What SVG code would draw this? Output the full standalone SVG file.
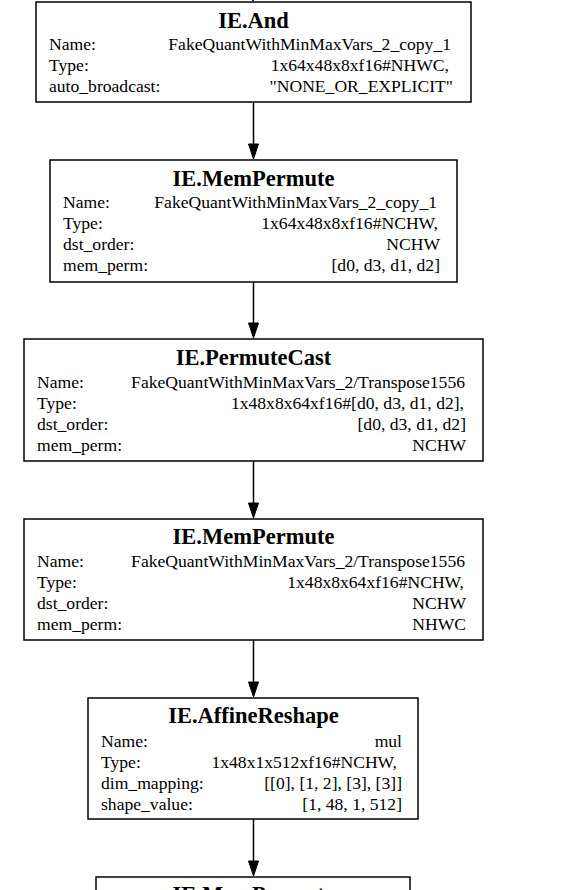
<svg xmlns="http://www.w3.org/2000/svg" width="575" height="890" viewBox="0 0 575 890">
<style>
.box{fill:#fff;stroke:#000;stroke-width:1.5}
.t{font-family:"Liberation Serif","Times New Roman",serif;font-size:22.5px;font-weight:bold;text-anchor:middle;fill:#000}
.l{font-family:"Liberation Serif","Times New Roman",serif;font-size:17.6px;fill:#000}
.r{font-family:"Liberation Serif","Times New Roman",serif;font-size:17.6px;fill:#000;text-anchor:end}
.e{stroke:#000;stroke-width:1.5;fill:none}
.h{fill:#000;stroke:#000;stroke-width:1}
</style>
<rect width="575" height="890" fill="#fff"/>
<g id="edges">
<polygon class="h" points="248,-10 258,-10 253,1"/>
<line class="e" x1="253.5" y1="102" x2="253.5" y2="144"/>
<polygon class="h" points="248.5,144 258.5,144 253.5,159"/>
<line class="e" x1="253.5" y1="282" x2="253.5" y2="323"/>
<polygon class="h" points="248.5,323 258.5,323 253.5,338"/>
<line class="e" x1="253.5" y1="461" x2="253.5" y2="503"/>
<polygon class="h" points="248.5,503 258.5,503 253.5,518"/>
<line class="e" x1="253.5" y1="640" x2="253.5" y2="682"/>
<polygon class="h" points="248.5,682 258.5,682 253.5,697"/>
<line class="e" x1="253.5" y1="819" x2="253.5" y2="861"/>
<polygon class="h" points="248.5,861 258.5,861 253.5,876"/>
</g>
<g id="n_and">
<rect class="box" x="36" y="2" width="435" height="100"/>
<text class="t" x="253.5" y="28">IE.And</text>
<text class="l" x="49" y="50">Name:</text><text class="r" x="451" y="50">FakeQuantWithMinMaxVars_2_copy_1</text>
<text class="l" x="49" y="71">Type:</text><text class="r" x="449" y="71">1x64x48x8xf16#NHWC,</text>
<text class="l" x="49" y="92">auto_broadcast:</text><text class="r" x="453" y="92">"NONE_OR_EXPLICIT"</text>
</g>
<g id="n_mempermute1">
<rect class="box" x="50" y="160" width="407" height="122"/>
<text class="t" x="253.5" y="186">IE.MemPermute</text>
<text class="l" x="63" y="208">Name:</text><text class="r" x="437" y="208">FakeQuantWithMinMaxVars_2_copy_1</text>
<text class="l" x="63" y="229">Type:</text><text class="r" x="438" y="229">1x64x48x8xf16#NCHW,</text>
<text class="l" x="63" y="250">dst_order:</text><text class="r" x="440" y="250">NCHW</text>
<text class="l" x="63" y="271">mem_perm:</text><text class="r" x="440" y="271">[d0, d3, d1, d2]</text>
</g>
<g id="n_permutecast">
<rect class="box" x="24" y="339" width="459" height="122"/>
<text class="t" x="253.5" y="365">IE.PermuteCast</text>
<text class="l" x="37" y="388">Name:</text><text class="r" x="465" y="388">FakeQuantWithMinMaxVars_2/Transpose1556</text>
<text class="l" x="37" y="409">Type:</text><text class="r" x="464" y="409">1x48x8x64xf16#[d0, d3, d1, d2],</text>
<text class="l" x="37" y="430">dst_order:</text><text class="r" x="466" y="430">[d0, d3, d1, d2]</text>
<text class="l" x="37" y="451">mem_perm:</text><text class="r" x="466" y="451">NCHW</text>
</g>
<g id="n_mempermute2">
<rect class="box" x="24" y="519" width="459" height="121"/>
<text class="t" x="253.5" y="544">IE.MemPermute</text>
<text class="l" x="37" y="567">Name:</text><text class="r" x="465" y="567">FakeQuantWithMinMaxVars_2/Transpose1556</text>
<text class="l" x="37" y="588">Type:</text><text class="r" x="464" y="588">1x48x8x64xf16#NCHW,</text>
<text class="l" x="37" y="609">dst_order:</text><text class="r" x="466" y="609">NCHW</text>
<text class="l" x="37" y="630">mem_perm:</text><text class="r" x="466" y="630">NHWC</text>
</g>
<g id="n_affinereshape">
<rect class="box" x="88" y="698" width="330" height="121"/>
<text class="t" x="253.5" y="723">IE.AffineReshape</text>
<text class="l" x="101" y="747">Name:</text><text class="r" x="402" y="747">mul</text>
<text class="l" x="101" y="768">Type:</text><text class="r" x="397" y="768">1x48x1x512xf16#NCHW,</text>
<text class="l" x="101" y="789">dim_mapping:</text><text class="r" x="402" y="789">[[0], [1, 2], [3], [3]]</text>
<text class="l" x="101" y="810">shape_value:</text><text class="r" x="402" y="810">[1, 48, 1, 512]</text>
</g>
<g id="n_mempermute3">
<rect class="box" x="96" y="877" width="314" height="60"/>
<text class="t" x="253.5" y="902">IE.MemPermute</text>
</g>
</svg>
